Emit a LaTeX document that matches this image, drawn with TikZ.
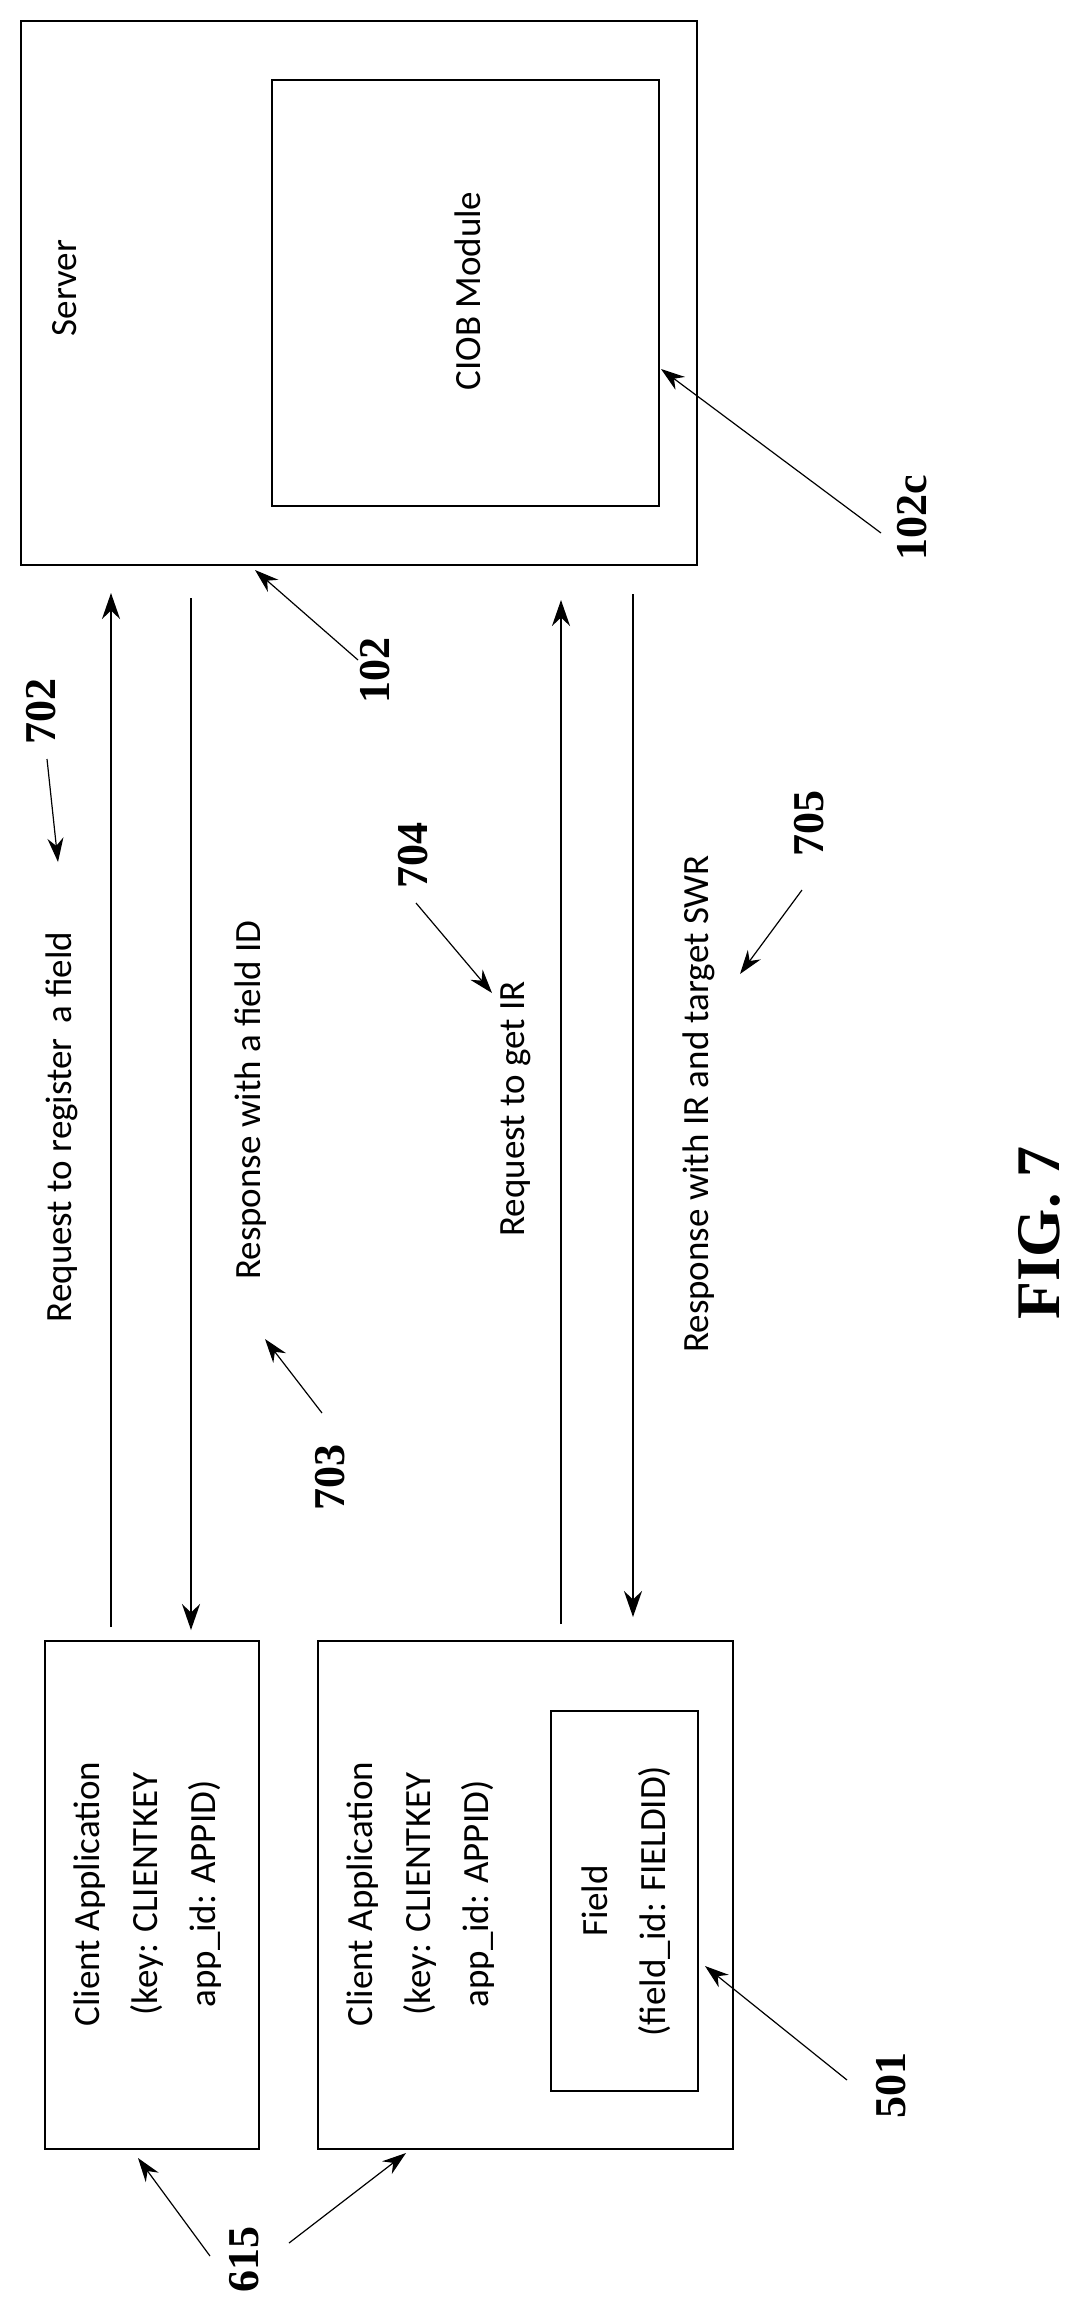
\documentclass[tikz,border=0pt]{standalone}
\usepackage{fontspec}
\setmainfont{Carlito}
\newfontfamily\labfont{Liberation Serif}
\usetikzlibrary{arrows.meta}
\begin{document}
\begin{tikzpicture}[x=1pt,y=-1pt,
  box/.style={draw,line width=2pt},
  txt/.style={rotate=90,font=\fontsize{37}{58}\selectfont,align=center,inner sep=0},
  lab/.style={rotate=90,font=\labfont\bfseries\fontsize{44}{44}\selectfont,inner sep=0},
  msg/.style={line width=2pt,-{Stealth[length=26pt,width=18pt]}},
  ptr/.style={line width=1.2pt,-{Stealth[length=24pt,width=16pt]}}]
\useasboundingbox (0,0) rectangle (1074,2308);
% boxes
\draw[box] (21,21) rectangle (697,565);
\draw[box] (272,80) rectangle (659,506);
\draw[box] (45,1641) rectangle (259,2149);
\draw[box] (318,1641) rectangle (733,2149);
\draw[box] (551,1711) rectangle (698,2091);
\node[txt] (server) at (65,288) {Server};
\node[txt] (ciob) at (468,291) {CIOB Module};
\node[txt] (client1) at (148,1894) {Client Application\\(key: CLIENTKEY\\app\_id: APPID)};
\node[txt] (client2) at (421,1894) {Client Application\\(key: CLIENTKEY\\app\_id: APPID)};
\node[txt] (field) at (626,1901) {Field\\(field\_id: FIELDID)};
% messages
\coordinate (a1s) at (111,1627); \coordinate (a1e) at (111,593);
\coordinate (a2s) at (191,598); \coordinate (a2e) at (191,1630);
\coordinate (a3s) at (561,1624); \coordinate (a3e) at (561,600);
\coordinate (a4s) at (633,594); \coordinate (a4e) at (633,1617);
\draw[msg] (a1s) -- (a1e);
\draw[msg] (a2s) -- (a2e);
\draw[msg] (a3s) -- (a3e);
\draw[msg] (a4s) -- (a4e);
\node[txt] (m1) at (62,1127) {Request to register\, a field};
\node[txt] (m2) at (251,1100) {Response with a field ID};
\node[txt] (m3) at (516,1109) {Request to get IR};
\node[txt] (m4) at (699,1104) {Response with IR and target SWR};
% labels
\node[lab] (l102c) at (912,518) {102c};
\node[lab] (l102) at (375,670) {102};
\node[lab] (l702) at (41,711) {702};
\node[lab] (l703) at (330,1477) {703};
\node[lab] (l704) at (413,855) {704};
\node[lab] (l705) at (809,823) {705};
\node[lab] (l615) at (244,2259) {615};
\node[lab] (l501) at (891,2085) {501};
\node[lab,font=\labfont\bfseries\fontsize{62}{62}\selectfont] (fig) at (1039,1233) {FIG. 7};
% pointers
\coordinate (t102c) at (661,369);
\coordinate (t102) at (255,570);
\coordinate (t702) at (58,862);
\coordinate (t703) at (265,1339);
\coordinate (t704) at (492,993);
\coordinate (t705) at (740,974);
\coordinate (t615a) at (138,2158);
\coordinate (t615b) at (406,2153);
\coordinate (t501) at (705,1966);
\draw[ptr] (881,533) -- (t102c);
\draw[ptr] (358,660) -- (t102);
\draw[ptr] (47,759) -- (t702);
\draw[ptr] (322,1413) -- (t703);
\draw[ptr] (416,903) -- (t704);
\draw[ptr] (802,890) -- (t705);
\draw[ptr] (210,2256) -- (t615a);
\draw[ptr] (289,2243) -- (t615b);
\draw[ptr] (847,2080) -- (t501);
\end{tikzpicture}
\end{document}
